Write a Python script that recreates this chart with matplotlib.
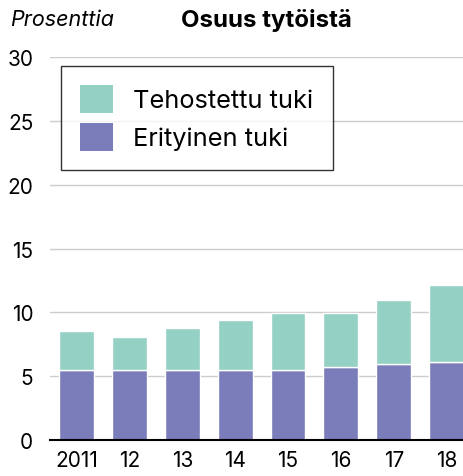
import matplotlib
matplotlib.use("Agg")
import matplotlib.pyplot as plt
from matplotlib.patches import Patch

years = ["2011", "12", "13", "14", "15", "16", "17", "18"]
erityinen = [5.5, 5.5, 5.5, 5.5, 5.5, 5.7, 5.95, 6.1]
totals = [8.5, 8.1, 8.8, 9.4, 9.95, 9.95, 11.0, 12.15]
tehostettu = [t - e for t, e in zip(totals, erityinen)]

c_teh = "#94d0c4"
c_eri = "#7b7cba"

plt.rcParams["font.family"] = ["Inter", "DejaVu Sans"]

fig = plt.figure(figsize=(4.64, 4.77), dpi=100)
ax = fig.add_axes([50/464, 1 - 441/477, 414/464, 383/477])

x = list(range(len(years)))
ax.bar(x, erityinen, width=0.66, color=c_eri, edgecolor="white", linewidth=1, zorder=3)
ax.bar(x, tehostettu, bottom=erityinen, width=0.66, color=c_teh, edgecolor="white", linewidth=1, zorder=3)

ax.set_ylim(0, 30)
ax.set_xlim(-0.505, 7.33)
ax.set_yticks([0, 5, 10, 15, 20, 25, 30])
ax.yaxis.grid(True, color="#cccccc", linewidth=1, zorder=0)
ax.set_xticks(x)
ax.set_xticklabels(years)
for s in ["top", "right", "left"]:
    ax.spines[s].set_visible(False)
ax.spines["bottom"].set_color("black")
ax.spines["bottom"].set_linewidth(1.5)
ax.spines["bottom"].set_zorder(5)
ax.tick_params(axis="y", length=0, pad=12, labelsize=15)
ax.tick_params(axis="x", length=0, pad=7, labelsize=15)

fig.text(10/464, 1 - 20/477, "Prosenttia", fontsize=15.5, style="italic", va="center", ha="left")
fig.text(266/464, 1 - 20/477, "Osuus tytöistä", fontsize=17.3, weight="bold", va="center", ha="center")

handles = [Patch(facecolor=c_teh), Patch(facecolor=c_eri)]
leg = ax.legend(handles, ["Tehostettu tuki", "Erityinen tuki"], loc="upper left",
                bbox_to_anchor=((61-50)/414, (441-67)/383), borderaxespad=0,
                fontsize=18.3, handlelength=1.3, handleheight=1.3, handletextpad=0.8,
                labelspacing=0.4, borderpad=0.75, fancybox=False, frameon=True)
leg.get_frame().set_edgecolor("black")
leg.get_frame().set_linewidth(1)
leg.set_zorder(10)

fig.savefig("out.png", dpi=100)
